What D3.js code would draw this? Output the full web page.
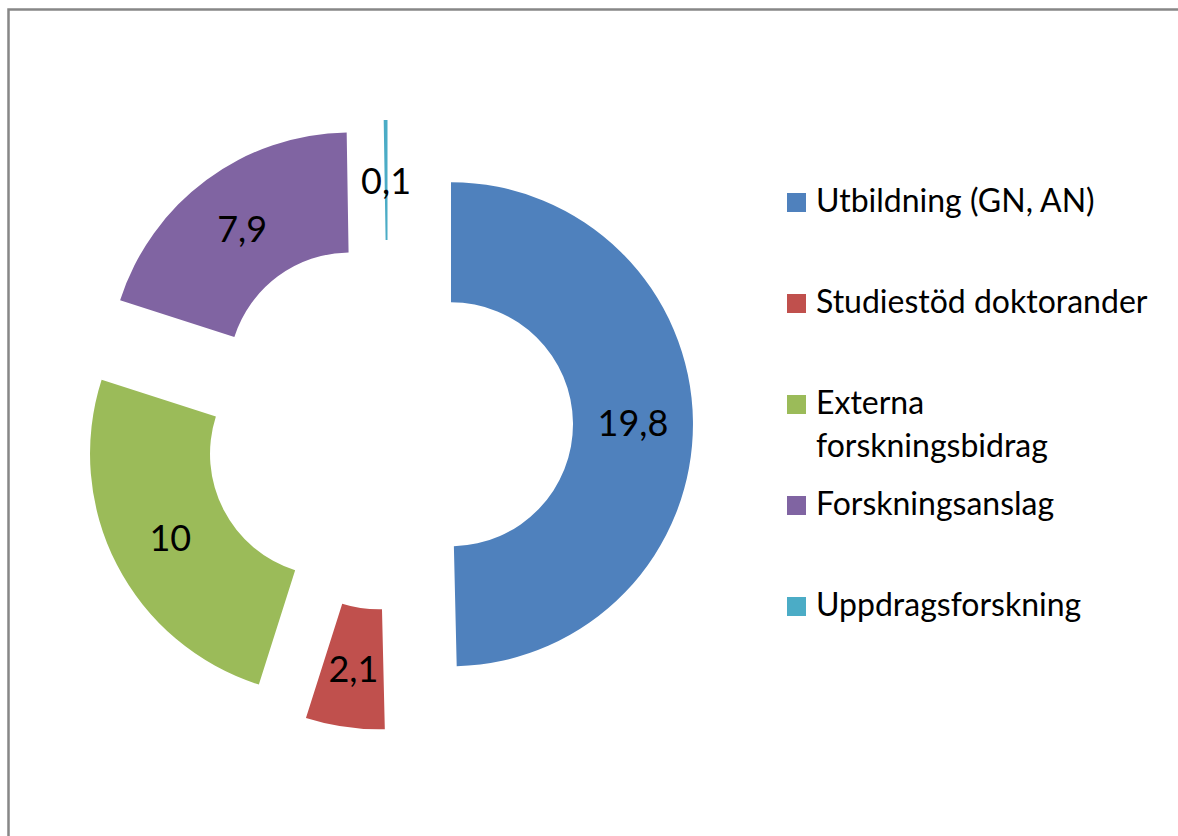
<!DOCTYPE html>
<html><head><meta charset="utf-8">
<script src="https://cdn.jsdelivr.net/npm/d3@7/dist/d3.min.js"></script>
<style>body{margin:0;background:#fff}svg{display:block}</style>
</head><body>
<svg id="chart" width="1178" height="836"></svg>
<script>
const categories = ["Utbildning (GN, AN)", "Studiestöd doktorander", "Externa forskningsbidrag", "Forskningsanslag", "Uppdragsforskning"];
const values = [19.8, 2.1, 10, 7.9, 0.1];
const valueLabels = ["19,8", "2,1", "10", "7,9", "0,1"];
const legendLines = [["Utbildning (GN, AN)"], ["Studiestöd doktorander"], ["Externa", "forskningsbidrag"], ["Forskningsanslag"], ["Uppdragsforskning"]];
const colors = ["#4F81BD", "#C0504D", "#9BBB59", "#8064A2", "#4BACC6"];

const svg = d3.select("#chart");
const W = 1178, H = 836;
const font = "Lato, 'Open Sans', sans-serif";

// frame
svg.append("rect").attr("x", 8.5).attr("y", 9.5).attr("width", 1300).attr("height", 1000)
  .attr("fill", "none").attr("stroke", "#878787").attr("stroke-width", 2.5);

const cx = 388, cy = 425, R = 242, r = 122, explode = 63;
const data = categories.map((c, i) => ({cat: c, value: values[i], label: valueLabels[i], color: colors[i]}));
const pie = d3.pie().sort(null).value(d => d.value);
const arcs = pie(data);
const arc = d3.arc().innerRadius(r).outerRadius(R);

const g = svg.append("g").attr("transform", `translate(${cx},${cy})`);
const slice = g.selectAll("g.slice").data(arcs).enter().append("g").attr("class", "slice")
  .attr("transform", d => {
    const a = (d.startAngle + d.endAngle) / 2;
    return `translate(${Math.sin(a) * explode},${-Math.cos(a) * explode})`;
  });
slice.append("path").attr("d", arc).attr("fill", d => d.data.color);
slice.append("text")
  .attr("transform", d => `translate(${arc.centroid(d)})`)
  .attr("text-anchor", "middle").attr("dominant-baseline", "central")
  .attr("font-family", font).attr("font-size", 36).attr("fill", "#000")
  .text(d => d.data.label);

// legend
const ly = d3.scalePoint().domain(categories).range([212, 616]);
const lg = svg.append("g");
const item = lg.selectAll("g.item").data(data).enter().append("g").attr("class", "item")
  .attr("transform", d => `translate(787,${ly(d.cat)})`);
item.append("rect").attr("x", 0).attr("y", -19).attr("width", 19).attr("height", 19).attr("fill", d => d.color);
item.append("text").attr("x", 29).attr("y", 0)
  .attr("font-family", font).attr("font-size", 32).attr("fill", "#000")
  .selectAll("tspan").data((d, i) => legendLines[i]).enter().append("tspan")
  .attr("x", 29).attr("dy", (d, j) => j === 0 ? 0 : 43).text(d => d);
</script>
</body></html>
